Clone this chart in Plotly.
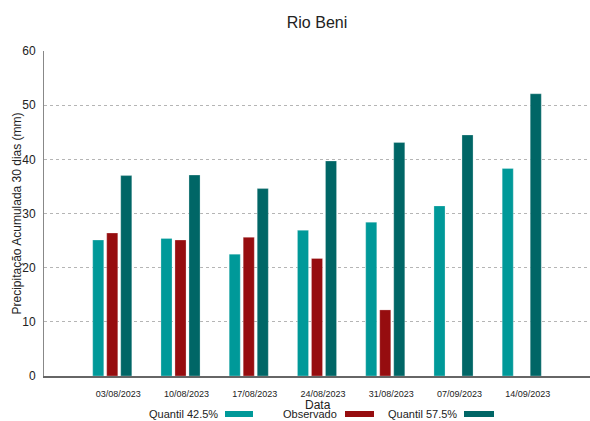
import plotly.graph_objects as go

dates = ["03/08/2023", "10/08/2023", "17/08/2023", "24/08/2023",
         "31/08/2023", "07/09/2023", "14/09/2023"]
q425 = [25.1, 25.4, 22.5, 26.9, 28.4, 31.4, 38.3]
observado = [26.4, 25.1, 25.6, 21.7, 12.2, None, None]
q575 = [37.0, 37.1, 34.6, 39.7, 43.1, 44.5, 52.1]

names = ["Quantil 42.5%", "Observado", "Quantil 57.5%"]
colors = ["#009999", "#960d0f", "#006666"]
series = [q425, observado, q575]

FONT = "Liberation Sans, Arial, sans-serif"
W, H = 590, 421
ML, MR, MT, MB = 44, 0, 51, 45
PW = W - ML - MR
PH = H - MT - MB

fig = go.Figure()
for name, col, vals in zip(names, colors, series):
    fig.add_trace(go.Bar(
        x=dates, y=vals, name=name,
        marker=dict(color=col, line=dict(color="rgba(255,255,255,0.45)", width=0.6)),
        showlegend=False,
    ))

def px_x(p):
    return (p - ML) / PW

def px_y(p):
    return 1 - (p - MT) / PH

annotations = [
    dict(text="Data", x=px_x(318), y=px_y(405), xref="paper", yref="paper",
         showarrow=False, font=dict(size=12, color="#222222", family=FONT),
         xanchor="center", yanchor="middle"),
    dict(text="Precipitação Acumulada 30 dias (mm)", x=px_x(16), y=0.5,
         xref="paper", yref="paper", textangle=-90, showarrow=False,
         font=dict(size=12, color="#222222", family=FONT),
         xanchor="center", yanchor="middle"),
]
shapes = []
legend_pos = [(220, 225, 253), (339, 345, 374), (459, 464, 494)]
for name, col, (tx, s0, s1) in zip(names, colors, legend_pos):
    annotations.append(dict(
        text=name, x=px_x(tx), y=px_y(414), xref="paper", yref="paper",
        showarrow=False, xanchor="right", yanchor="middle",
        font=dict(size=11, color="#222222", family=FONT)))
    shapes.append(dict(type="rect", xref="paper", yref="paper",
                       x0=px_x(s0), x1=px_x(s1), y0=px_y(417), y1=px_y(411),
                       fillcolor=col, line=dict(width=0)))

fig.update_layout(
    width=W, height=H,
    margin=dict(l=ML, r=MR, t=MT, b=MB, pad=0),
    paper_bgcolor="white", plot_bgcolor="white",
    font=dict(family=FONT, color="#222222"),
    title=dict(text="Rio Beni", x=0.5, xref="paper", y=1 - 22 / H,
               yanchor="middle", font=dict(size=16, color="#222222", family=FONT)),
    barmode="group", bargap=0.384, bargroupgap=0.21,
    xaxis=dict(type="category", range=[-1, 7], showgrid=False,
               showline=True, linecolor="#666666", linewidth=1.5, mirror=False,
               ticks="", tickfont=dict(size=9, color="#222222"),
               ticklabelstandoff=8, ticklabelshift=6),
    yaxis=dict(range=[0, 60], dtick=10, showgrid=True, gridcolor="#b5b5b5",
               griddash="dot", gridwidth=1, zeroline=False,
               showline=True, linecolor="#888888", linewidth=1, mirror=True,
               ticks="", tickfont=dict(size=12, color="#222222"),
               ticklabelstandoff=5),
    annotations=annotations,
    shapes=shapes,
)

fig.write_html("out.html", config={"displayModeBar": False},
               post_script="document.body.style.margin='0';")
